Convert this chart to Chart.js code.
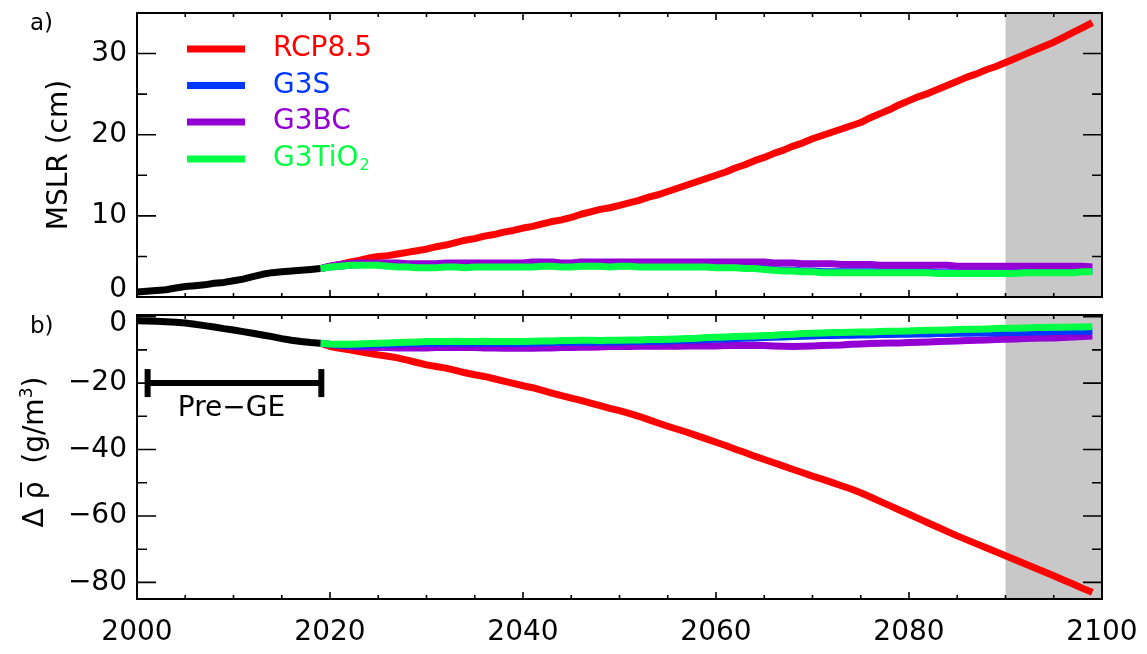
<!DOCTYPE html>
<html>
<head>
<meta charset="utf-8">
<title>MSLR and density change</title>
<script src="https://cdn.jsdelivr.net/npm/chart.js@4.4.1/dist/chart.umd.min.js"></script>
<style>
  body { margin: 0; background: #fff; }
  #wrap { position: relative; width: 1147px; height: 654px; }
  #wrap canvas { position: absolute; left: 0; top: 0; }
</style>
</head>
<body>
<div id="wrap">
  <canvas id="chartA" width="1147" height="654"></canvas>
  <canvas id="chartB" width="1147" height="654"></canvas>
</div>
<script>
// ---- data ----
const histYears = [2000,2001,2002,2003,2004,2005,2006,2007,2008,2009,
                   2010,2011,2012,2013,2014,2015,2016,2017,2018,2019];
const scenYears = [2019,
  2020,2021,2022,2023,2024,2025,2026,2027,2028,2029,
  2030,2031,2032,2033,2034,2035,2036,2037,2038,2039,
  2040,2041,2042,2043,2044,2045,2046,2047,2048,2049,
  2050,2051,2052,2053,2054,2055,2056,2057,2058,2059,
  2060,2061,2062,2063,2064,2065,2066,2067,2068,2069,
  2070,2071,2072,2073,2074,2075,2076,2077,2078,2079,
  2080,2081,2082,2083,2084,2085,2086,2087,2088,2089,
  2090,2091,2092,2093,2094,2095,2096,2097,2098,2099];

// panel a: MSLR (cm)
const histMSLR = [0.6,0.7,0.8,0.9,1.1,1.3,1.4,1.5,1.7,1.8,2.0,2.2,2.5,2.8,3.0,3.1,3.2,3.3,3.4,3.5];
const rcpMSLR = [3.5,
  3.8,4.0,4.3,4.5,4.8,5.0,5.1,5.3,5.5,5.7,
  5.9,6.2,6.4,6.7,7.0,7.2,7.5,7.7,8.0,8.2,
  8.5,8.7,9.0,9.3,9.5,9.8,10.2,10.5,10.8,11.0,
  11.3,11.6,11.9,12.3,12.6,13.0,13.4,13.8,14.2,14.6,
  15.0,15.4,15.9,16.3,16.8,17.2,17.7,18.1,18.6,19.0,
  19.5,19.9,20.3,20.7,21.1,21.5,22.1,22.6,23.1,23.7,
  24.2,24.7,25.1,25.6,26.1,26.6,27.1,27.5,28.0,28.4,
  28.9,29.4,29.9,30.4,30.9,31.4,32.0,32.6,33.2,33.8];
const g3sMSLR = [3.5,
  3.7,3.8,3.9,4.0,4.0,4.0,3.9,3.8,3.8,3.7,
  3.7,3.7,3.8,3.8,3.7,3.8,3.8,3.8,3.8,3.8,
  3.8,3.8,3.9,3.9,3.8,3.8,3.9,3.9,3.9,3.8,
  3.9,3.9,3.8,3.8,3.8,3.8,3.8,3.8,3.8,3.8,
  3.7,3.7,3.7,3.6,3.6,3.5,3.4,3.3,3.3,3.2,
  3.2,3.1,3.1,3.1,3.1,3.1,3.1,3.1,3.1,3.1,
  3.1,3.1,3.1,3.0,3.0,3.0,3.0,3.0,3.0,3.0,
  3.0,3.0,3.1,3.1,3.1,3.1,3.1,3.1,3.2,3.2];
const g3bcMSLR = [3.5,
  3.8,4.0,4.1,4.2,4.2,4.2,4.2,4.2,4.1,4.1,
  4.1,4.1,4.2,4.2,4.2,4.2,4.2,4.2,4.2,4.2,
  4.2,4.3,4.3,4.3,4.2,4.2,4.3,4.3,4.3,4.3,
  4.3,4.3,4.3,4.3,4.3,4.3,4.3,4.3,4.3,4.3,
  4.3,4.3,4.3,4.3,4.3,4.3,4.2,4.2,4.2,4.1,
  4.1,4.1,4.1,4.0,4.0,4.0,4.0,3.9,3.9,3.9,
  3.9,3.9,3.9,3.9,3.9,3.8,3.8,3.8,3.8,3.8,
  3.8,3.8,3.8,3.8,3.8,3.8,3.8,3.8,3.8,3.7];
const g3tio2MSLR = [3.5,
  3.7,3.8,3.9,3.9,3.9,3.9,3.8,3.7,3.7,3.6,
  3.6,3.6,3.7,3.7,3.6,3.7,3.7,3.7,3.7,3.7,
  3.7,3.7,3.8,3.8,3.7,3.7,3.8,3.8,3.8,3.7,
  3.8,3.8,3.7,3.7,3.7,3.7,3.7,3.7,3.7,3.7,
  3.6,3.6,3.6,3.5,3.5,3.4,3.3,3.2,3.2,3.1,
  3.1,3.0,3.0,3.0,3.0,3.0,3.0,3.0,3.0,3.0,
  3.0,3.0,3.0,2.9,2.9,2.9,2.9,2.9,2.9,2.9,
  2.9,2.9,3.0,3.0,3.0,3.0,3.0,3.0,3.1,3.1];

// panel b: density change (g/m3)
const histRho = [-1.2,-1.3,-1.4,-1.5,-1.7,-1.9,-2.3,-2.7,-3.1,-3.6,-4.0,-4.5,-5.0,-5.5,-6.0,-6.6,-7.1,-7.5,-7.8,-8.0];
const rcpRho = [-8.0,
  -9.0,-9.5,-10.0,-10.5,-11.0,-11.5,-11.9,-12.4,-13.1,-13.8,
  -14.5,-15.0,-15.5,-16.2,-16.9,-17.5,-18.0,-18.7,-19.4,-20.1,
  -20.8,-21.4,-22.2,-23.0,-23.8,-24.5,-25.2,-26.0,-26.8,-27.6,
  -28.3,-29.1,-30.0,-31.0,-32.0,-33.0,-33.9,-34.8,-35.8,-36.8,
  -37.8,-38.8,-39.9,-40.9,-42.0,-43.0,-44.0,-45.0,-46.0,-47.0,
  -48.0,-48.9,-49.9,-50.9,-51.9,-53.0,-54.3,-55.6,-56.9,-58.2,
  -59.5,-60.8,-62.1,-63.4,-64.7,-66.0,-67.2,-68.4,-69.6,-70.8,
  -72.0,-73.2,-74.4,-75.6,-76.8,-78.0,-79.3,-80.5,-81.8,-83.0];
const g3sRho = [-8.0,
  -8.3,-8.5,-8.6,-8.6,-8.5,-8.4,-8.3,-8.2,-8.1,-8.0,
  -8.0,-8.0,-7.9,-7.9,-8.0,-8.0,-7.9,-8.0,-8.0,-8.0,
  -8.0,-7.9,-7.9,-7.8,-7.8,-7.7,-7.7,-7.7,-7.7,-7.6,
  -7.6,-7.5,-7.5,-7.4,-7.4,-7.3,-7.2,-7.1,-7.0,-6.9,
  -6.8,-6.7,-6.6,-6.5,-6.4,-6.3,-6.2,-6.1,-6.0,-5.9,
  -5.8,-5.7,-5.7,-5.6,-5.6,-5.5,-5.5,-5.4,-5.4,-5.3,
  -5.3,-5.2,-5.2,-5.1,-5.1,-5.0,-5.0,-4.9,-4.9,-4.9,
  -4.8,-4.8,-4.7,-4.6,-4.6,-4.5,-4.5,-4.4,-4.4,-4.4];
const g3bcRho = [-8.0,
  -8.4,-8.7,-8.9,-9.1,-9.2,-9.3,-9.3,-9.4,-9.4,-9.4,
  -9.4,-9.3,-9.3,-9.2,-9.3,-9.3,-9.4,-9.4,-9.5,-9.5,
  -9.5,-9.5,-9.4,-9.4,-9.3,-9.3,-9.2,-9.2,-9.1,-9.0,
  -9.0,-9.0,-8.9,-8.9,-8.9,-8.9,-8.9,-8.8,-8.8,-8.8,
  -8.8,-8.7,-8.7,-8.7,-8.6,-8.7,-8.8,-8.9,-9.0,-8.9,
  -8.8,-8.7,-8.6,-8.5,-8.3,-8.2,-8.1,-8.0,-7.9,-7.9,
  -7.8,-7.7,-7.6,-7.5,-7.4,-7.3,-7.2,-7.1,-7.0,-6.9,
  -6.8,-6.7,-6.6,-6.5,-6.4,-6.4,-6.3,-6.1,-6.0,-5.8];
const g3tio2Rho = [-8.0,
  -8.2,-8.3,-8.3,-8.2,-8.1,-8.0,-7.9,-7.8,-7.7,-7.6,
  -7.5,-7.5,-7.5,-7.4,-7.5,-7.5,-7.4,-7.5,-7.5,-7.5,
  -7.5,-7.4,-7.3,-7.3,-7.2,-7.2,-7.1,-7.1,-7.2,-7.1,
  -7.1,-7.0,-7.0,-6.9,-6.9,-6.8,-6.7,-6.6,-6.5,-6.3,
  -6.2,-6.1,-6.0,-5.9,-5.8,-5.7,-5.6,-5.4,-5.3,-5.1,
  -5.0,-4.9,-4.8,-4.8,-4.7,-4.6,-4.6,-4.5,-4.4,-4.4,
  -4.3,-4.2,-4.1,-4.1,-4.0,-3.9,-3.8,-3.8,-3.7,-3.6,
  -3.5,-3.5,-3.4,-3.3,-3.3,-3.2,-3.2,-3.1,-3.1,-3.0];

// axes / annotations
const xLabelYears = [2000, 2020, 2040, 2060, 2080, 2100];
const xTickYears = [2005,2010,2015,2020,2025,2030,2035,2040,2045,2050,
                    2055,2060,2065,2070,2075,2080,2085,2090,2095];
const yMajorA = [0, 10, 20, 30];
const yMinorA = [5, 15, 25];
const yMajorB = [-80, -60, -40, -20, 0];
const yMinorB = [-70, -50, -30, -10];
const shadeStart = 2090;
const preGeYears = [2001.1, 2019.1];
const preGeLevel = -20;

const seriesNames = ['RCP8.5', 'G3S', 'G3BC', 'G3TiO2'];
const seriesColors = ['#ff0000', '#0038ff', '#9400d3', '#00ff44'];

const FONT = "'DejaVu Sans', 'Liberation Sans', sans-serif";
const FS = 28;
Chart.defaults.font.family = FONT;
Chart.defaults.font.size = FS;
Chart.defaults.color = '#000';

function pts(xs, ys) {
  return ys.map((v, i) => ({ x: xs[i], y: v }));
}

function lineSet(label, xs, ys, color, order) {
  return {
    label: label,
    data: pts(xs, ys),
    borderColor: color,
    backgroundColor: color,
    borderWidth: 7,
    pointRadius: 0,
    fill: false,
    tension: 0,
    borderCapStyle: 'butt',
    borderJoinStyle: 'round',
    order: order
  };
}

function fmt(v) {
  return String(v).replace('-', '\u2212');
}

// gray band for the last decade
const shadePlugin = {
  id: 'shade',
  beforeDatasetsDraw(chart) {
    const { ctx, chartArea: a, scales: { x } } = chart;
    const x0 = x.getPixelForValue(shadeStart);
    ctx.save();
    ctx.fillStyle = '#c8c8c8';
    ctx.fillRect(x0, a.top + 1, a.right - x0, a.bottom - a.top - 1);
    ctx.restore();
  }
};

// box, inward ticks and y labels
function drawFrame(chart, yMajor, yMinor) {
  const { ctx, chartArea: a, scales: { x, y } } = chart;
  ctx.save();
  ctx.strokeStyle = '#000';
  ctx.lineWidth = 1.6;
  ctx.beginPath();
  xTickYears.forEach(v => {
    const px = x.getPixelForValue(v);
    const len = v % 20 === 0 ? 7 : 4;
    ctx.moveTo(px, a.top); ctx.lineTo(px, a.top + len);
    ctx.moveTo(px, a.bottom); ctx.lineTo(px, a.bottom - len);
  });
  yMajor.concat(yMinor).forEach(v => {
    const py = y.getPixelForValue(v);
    const len = yMajor.includes(v) ? 19 : 10;
    ctx.moveTo(a.left, py); ctx.lineTo(a.left + len, py);
    ctx.moveTo(a.right, py); ctx.lineTo(a.right - len, py);
  });
  ctx.stroke();
  ctx.lineWidth = 2;
  ctx.strokeRect(a.left, a.top, a.right - a.left, a.bottom - a.top);

  ctx.fillStyle = '#000';
  ctx.font = FS + 'px ' + FONT;
  ctx.textAlign = 'right';
  ctx.textBaseline = 'middle';
  yMajor.forEach(v => {
    let py = y.getPixelForValue(v);
    py = Math.min(Math.max(py, a.top + 9), a.bottom - 7);
    ctx.fillText(fmt(v), a.left - 10, py);
  });
  ctx.restore();
}

const decorA = {
  id: 'decorA',
  afterDraw(chart) {
    const ctx = chart.ctx;
    drawFrame(chart, yMajorA, yMinorA);
    ctx.save();
    // panel letter
    ctx.font = '23px ' + FONT;
    ctx.textAlign = 'left';
    ctx.textBaseline = 'alphabetic';
    ctx.fillText('a)', 30, 30);
    // y title
    ctx.save();
    ctx.translate(67, 155);
    ctx.rotate(-Math.PI / 2);
    ctx.font = FS + 'px ' + FONT;
    ctx.textAlign = 'center';
    ctx.fillText('MSLR (cm)', 0, 0);
    ctx.restore();
    // legend
    const rowY = [49, 85.5, 122, 159];
    ctx.lineCap = 'butt';
    ctx.lineWidth = 7;
    seriesNames.forEach((name, i) => {
      const yy = rowY[i];
      ctx.strokeStyle = seriesColors[i];
      ctx.beginPath();
      ctx.moveTo(187, yy); ctx.lineTo(245, yy);
      ctx.stroke();
      ctx.fillStyle = seriesColors[i];
      ctx.font = FS + 'px ' + FONT;
      ctx.textAlign = 'left';
      if (name === 'G3TiO2') {
        ctx.fillText('G3TiO', 273, yy + 7);
        const w = ctx.measureText('G3TiO').width;
        ctx.font = '16px ' + FONT;
        ctx.fillText('2', 273 + w + 1, yy + 11);
      } else {
        ctx.fillText(name, 273, yy + 7);
      }
    });
    ctx.restore();
  }
};

const decorB = {
  id: 'decorB',
  afterDraw(chart) {
    const { ctx, scales: { x, y } } = chart;
    drawFrame(chart, yMajorB, yMinorB);
    ctx.save();
    ctx.fillStyle = '#000';
    ctx.strokeStyle = '#000';
    ctx.font = '23px ' + FONT;
    ctx.textAlign = 'left';
    ctx.textBaseline = 'alphabetic';
    ctx.fillText('b)', 30, 333);

    // Pre-GE label
    ctx.font = FS + 'px ' + FONT;
    ctx.textAlign = 'center';
    ctx.fillText('Pre\u2212GE', x.getPixelForValue((preGeYears[0] + preGeYears[1]) / 2) - 3,
                 y.getPixelForValue(preGeLevel) + 33);

    // y title: delta rho-bar (g/m^3)
    ctx.save();
    ctx.translate(43, 452);
    ctx.rotate(-Math.PI / 2);
    ctx.textAlign = 'left';
    const big = FS + 'px ' + FONT, small = '17px ' + FONT;
    ctx.font = big;
    const p1 = '\u0394 ', p2 = '\u03c1', p3 = '  (g/m', p5 = ')';
    const w1 = ctx.measureText(p1).width, w2 = ctx.measureText(p2).width;
    const w3 = ctx.measureText(p3).width, w5 = ctx.measureText(p5).width;
    ctx.font = small;
    const w4 = ctx.measureText('3').width;
    let cx = -(w1 + w2 + w3 + w4 + w5) / 2;
    ctx.font = big;
    ctx.fillText(p1, cx, 0); cx += w1;
    ctx.fillText(p2, cx, 0);
    ctx.lineWidth = 2;
    ctx.beginPath();
    ctx.moveTo(cx + 2, -22); ctx.lineTo(cx + w2 - 1, -22);
    ctx.stroke();
    cx += w2;
    ctx.fillText(p3, cx, 0); cx += w3;
    ctx.font = small;
    ctx.fillText('3', cx, -11); cx += w4;
    ctx.font = big;
    ctx.fillText(p5, cx, 0);
    ctx.restore();
    ctx.restore();
  }
};

const commonOpts = {
  responsive: false,
  animation: false,
  devicePixelRatio: 1,
  events: [],
  plugins: { legend: { display: false }, tooltip: { enabled: false } }
};

new Chart(document.getElementById('chartA'), {
  type: 'line',
  data: {
    datasets: [
      lineSet('hist', histYears, histMSLR, '#000000', 0),
      lineSet(seriesNames[3], scenYears, g3tio2MSLR, seriesColors[3], 1),
      lineSet(seriesNames[2], scenYears, g3bcMSLR, seriesColors[2], 2),
      lineSet(seriesNames[1], scenYears, g3sMSLR, seriesColors[1], 3),
      lineSet(seriesNames[0], scenYears, rcpMSLR, seriesColors[0], 4)
    ]
  },
  options: Object.assign({}, commonOpts, {
    layout: { padding: { left: 0, top: 13, right: 45, bottom: 357 } },
    scales: {
      x: { type: 'linear', min: 2000, max: 2100, display: false },
      y: {
        type: 'linear', min: 0, max: 35,
        grid: { display: false, drawTicks: false },
        border: { display: false },
        ticks: { display: false },
        afterFit: s => { s.width = 137; }
      }
    }
  }),
  plugins: [shadePlugin, decorA]
});

new Chart(document.getElementById('chartB'), {
  type: 'line',
  data: {
    datasets: [
      lineSet('hist', histYears, histRho, '#000000', 0),
      {
        label: 'Pre-GE',
        data: pts(preGeYears, [preGeLevel, preGeLevel]),
        borderColor: '#000',
        backgroundColor: '#000',
        borderWidth: 6,
        pointStyle: 'line',
        pointRadius: 14,
        pointRotation: 90,
        pointBorderWidth: 6,
        pointBorderColor: '#000',
        order: 0
      },
      lineSet(seriesNames[3], scenYears, g3tio2Rho, seriesColors[3], 1),
      lineSet(seriesNames[1], scenYears, g3sRho, seriesColors[1], 2),
      lineSet(seriesNames[2], scenYears, g3bcRho, seriesColors[2], 3),
      lineSet(seriesNames[0], scenYears, rcpRho, seriesColors[0], 4)
    ]
  },
  options: Object.assign({}, commonOpts, {
    layout: { padding: { left: 0, top: 315, right: 45, bottom: 0 } },
    scales: {
      x: {
        type: 'linear', min: 2000, max: 2100, position: 'bottom',
        grid: { display: false, drawTicks: false },
        border: { display: false },
        afterBuildTicks: s => { s.ticks = xLabelYears.map(v => ({ value: v })); },
        ticks: { padding: 17, maxRotation: 0, autoSkip: false, callback: v => String(v) },
        afterFit: s => { s.height = 55; s.paddingLeft = 0; s.paddingRight = 0; }
      },
      y: {
        type: 'linear', min: -85, max: 0.5,
        grid: { display: false, drawTicks: false },
        border: { display: false },
        ticks: { display: false },
        afterFit: s => { s.width = 137; }
      }
    }
  }),
  plugins: [shadePlugin, decorB]
});
</script>
</body>
</html>
